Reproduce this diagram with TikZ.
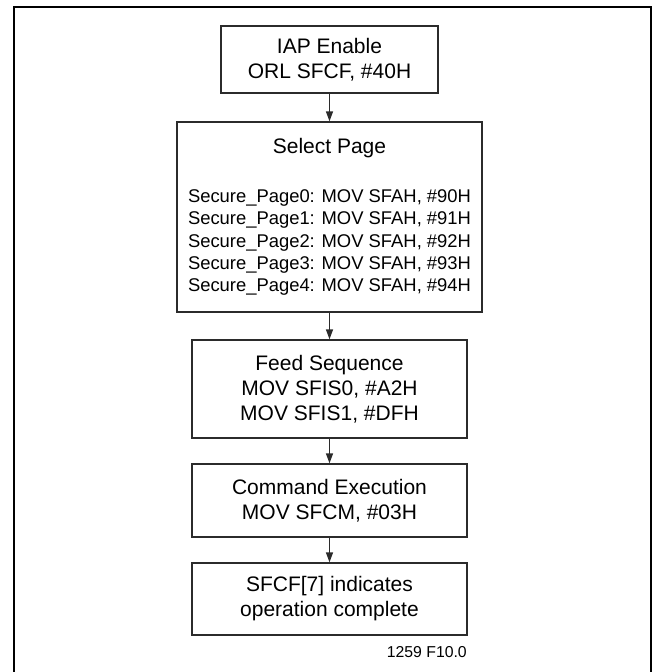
\documentclass[tikz,border=0pt]{standalone}
\usepackage{fontspec}
\setmainfont{Liberation Sans}
\usetikzlibrary{arrows.meta,positioning}
\definecolor{boxgray}{HTML}{2B2B2B}
\newcommand\pagefont{\fontsize{18.4}{22.35}\selectfont}

\begin{document}
\begin{tikzpicture}[x=1pt, y=-1pt,
    box/.style={draw=boxgray, line width=1.3pt, align=center, inner sep=0pt,
        minimum width=275pt, font=\fontsize{21}{25}\selectfont},
    flow/.style={draw=boxgray, line width=1.3pt, -{Triangle[length=10pt,width=7pt]}}]
\useasboundingbox (0,0) rectangle (652,672);
\clip (0,0) rectangle (652,672);
% outer frame
\draw[line width=1.8pt] (14,7) rectangle (651,690);

\node[box, minimum width=217pt, minimum height=67pt] (iap) at (329.5,59.5) {IAP Enable\\ORL SFCF, \#40H};
\node[box, minimum width=305pt, minimum height=190pt, font=\fontsize{21}{22.35}\selectfont] (page) at (329.5,217)
    {Select Page\\[26.6pt]
     \pagefont Secure\_Page0: MOV SFAH, \#90H\\
     \pagefont Secure\_Page1: MOV SFAH, \#91H\\
     \pagefont Secure\_Page2: MOV SFAH, \#92H\\
     \pagefont Secure\_Page3: MOV SFAH, \#93H\\
     \pagefont Secure\_Page4: MOV SFAH, \#94H};
\node[box, minimum height=98pt] (feed) at (329.5,389) {Feed Sequence\\MOV SFIS0, \#A2H\\MOV SFIS1, \#DFH};
\node[box, minimum height=73pt] (cmd) at (329.5,500.5) {Command Execution\\MOV SFCM, \#03H};
\node[box, minimum height=72pt] (done) at (329.5,599) {SFCF[7] indicates\\operation complete};
\node[anchor=east, inner sep=0pt, font=\fontsize{15.8}{18}\selectfont] (figno) at (467,652) {1259 F10.0};

\draw[flow] (iap) -- (page);
\draw[flow] (page) -- (feed);
\draw[flow] (feed) -- (cmd);
\draw[flow] (cmd) -- (done);
\end{tikzpicture}
\end{document}
